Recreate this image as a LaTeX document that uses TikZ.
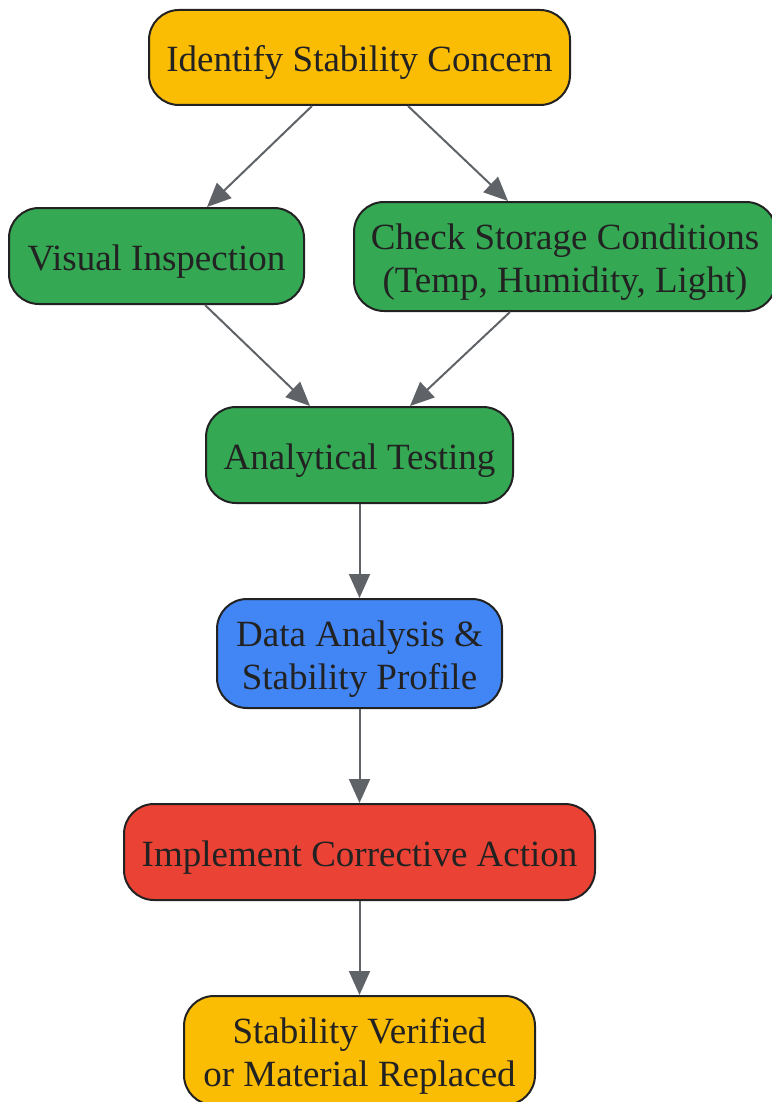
\documentclass[tikz,border=0pt]{standalone}
\usepackage{fontspec}
\setmainfont{Liberation Serif}
\usetikzlibrary{arrows.meta}
\definecolor{gyellow}{HTML}{FBBC04}
\definecolor{ggreen}{HTML}{34A853}
\definecolor{gblue}{HTML}{4285F4}
\definecolor{gred}{HTML}{EA4335}
\definecolor{arrowgray}{HTML}{5F6368}
\definecolor{textdark}{HTML}{222222}
\newcommand{\boxtext}[1]{\raisebox{-5.5pt}[\height][\depth]{\begin{tabular}{@{}c@{}}#1\end{tabular}}}
\begin{document}
\begin{tikzpicture}[x=1pt,y=-1pt,
  box/.style={draw=textdark,line width=2pt,rounded corners=30pt,text=textdark,
    inner sep=0pt,font=\fontsize{37}{43}\selectfont},
  conn/.style={draw=arrowgray,line width=2pt,-{Triangle[length=24pt,width=21pt]}}]
\useasboundingbox (0,0) rectangle (771,1102);
\node[box,fill=gyellow,minimum width=421pt,minimum height=95pt] (n1) at (359.5,57.5) {\boxtext{Identify Stability Concern}};
\node[box,fill=ggreen,minimum width=295pt,minimum height=96pt] (n2) at (156.5,256) {\boxtext{Visual Inspection}};
\node[box,fill=ggreen,minimum width=422pt,minimum height=109pt] (n3) at (565,256.5) {\boxtext{Check Storage Conditions\\(Temp, Humidity, Light)}};
\node[box,fill=ggreen,minimum width=307pt,minimum height=96pt] (n4) at (359.5,455) {\boxtext{Analytical Testing}};
\node[box,fill=gblue,minimum width=285pt,minimum height=109pt] (n5) at (359.5,653.5) {\boxtext{Data Analysis \&\\Stability Profile}};
\node[box,fill=gred,minimum width=471pt,minimum height=96pt] (n6) at (359.5,852) {\boxtext{Implement Corrective Action}};
\node[box,fill=gyellow,minimum width=351pt,minimum height=109pt] (n7) at (359.5,1050.5) {\boxtext{Stability Verified\\or Material Replaced}};
\draw[conn] ([xshift=-47.5pt]n1.south) -- ([xshift=50.5pt]n2.north);
\draw[conn] ([xshift=48.5pt]n1.south) -- ([xshift=-57pt]n3.north);
\draw[conn] ([xshift=48.5pt]n2.south) -- ([xshift=-49.5pt]n4.north);
\draw[conn] ([xshift=-55pt]n3.south) -- ([xshift=50.5pt]n4.north);
\draw[conn] (n4.south) -- (n5.north);
\draw[conn] (n5.south) -- (n6.north);
\draw[conn] (n6.south) -- (n7.north);
\end{tikzpicture}
\end{document}
